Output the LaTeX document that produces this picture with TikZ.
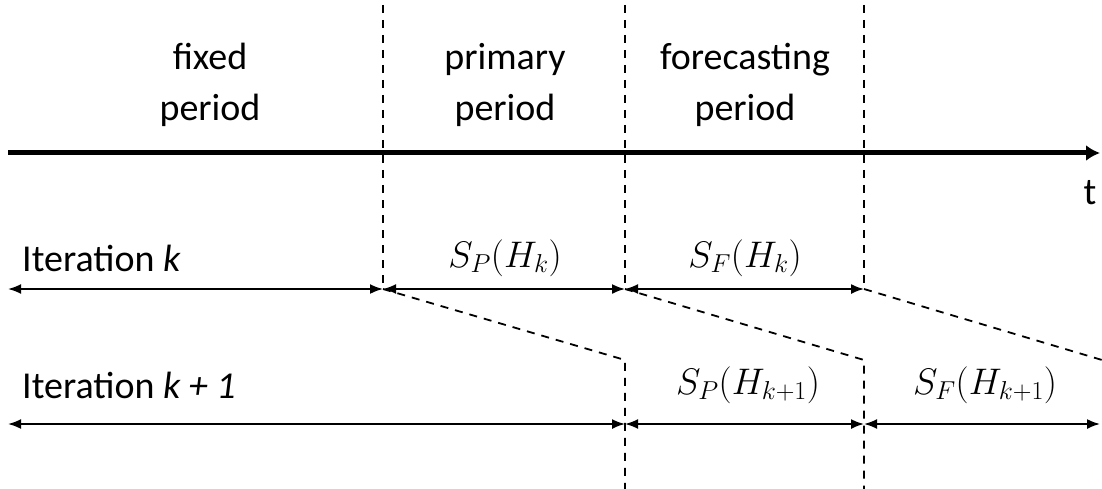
\RequirePackage{fix-cm}
\documentclass[tikz,border=0pt]{standalone}
\usepackage{fontspec}
\setmainfont{Carlito}
\usetikzlibrary{arrows.meta}
\tikzset{
  dbl/.style={line width=1.8pt,{Latex[length=13pt,width=10pt]}-{Latex[length=13pt,width=10pt]}},
  axis/.style={line width=5pt,-{Latex[length=14pt,width=16pt]}},
  dsh/.style={line width=1.8pt,dash pattern=on 8pt off 7pt},
  lbl/.style={font=\fontsize{38}{51}\selectfont,align=center,inner sep=0pt},
  mlbl/.style={font=\fontsize{37}{42}\selectfont,inner sep=0pt}
}
\begin{document}
\begin{tikzpicture}[x=1pt,y=-1pt]
\useasboundingbox (0,0) rectangle (1102,489);
% coordinates
\coordinate (A0) at (8,153);
\coordinate (A1) at (1100,153);
\coordinate (T1) at (383,5);
\coordinate (T2) at (625,5);
\coordinate (T3) at (864,5);
\coordinate (L1) at (8,289);
\coordinate (B1) at (383,289);
\coordinate (B2) at (625,289);
\coordinate (B3) at (864,289);
\coordinate (D1) at (625,360);
\coordinate (D2) at (864,360);
\coordinate (D3) at (1102,360);
\coordinate (E1) at (625,489);
\coordinate (E2) at (864,489);
\coordinate (L2) at (8,424);
\coordinate (C2) at (625,424);
\coordinate (C3) at (864,424);
\coordinate (R2) at (1100,424);
% dashed lines
\draw[dsh] (T1) -- (B1);
\draw[dsh] (T2) -- (B2);
\draw[dsh] (T3) -- (B3);
\draw[dsh] (B1) -- (D1) -- (E1);
\draw[dsh] (B2) -- (D2) -- (E2);
\draw[dsh] (B3) -- (D3);
% axis
\draw[axis] (A0) -- (A1);
% arrows
\draw[dbl] (L1) -- (B1);
\draw[dbl] (B1) -- (B2);
\draw[dbl] (B2) -- (B3);
\draw[dbl] (L2) -- (C2);
\draw[dbl] (C2) -- (C3);
\draw[dbl] (C3) -- (R2);
% labels
\node[lbl] (fixed) at (210,85) {fixed\\period};
\node[lbl] (prim) at (505,85) {primary\\period};
\node[lbl] (fore) at (745,85) {forecasting\\period};
\node[lbl] (t) at (1090,193) {t};
\node[lbl,anchor=west] (itk) at (22,258) {Iteration \textit{k}};
\node[lbl,anchor=west] (itk1) at (22,385) {Iteration \textit{k + 1}};
\node[mlbl] (spk) at (505,258) {$S_P(H_k)$};
\node[mlbl] (sfk) at (745,258) {$S_F(H_k)$};
\node[mlbl] (spk1) at (748,385) {$S_P(H_{k+1})$};
\node[mlbl] (sfk1) at (985,385) {$S_F(H_{k+1})$};
\end{tikzpicture}
\end{document}
